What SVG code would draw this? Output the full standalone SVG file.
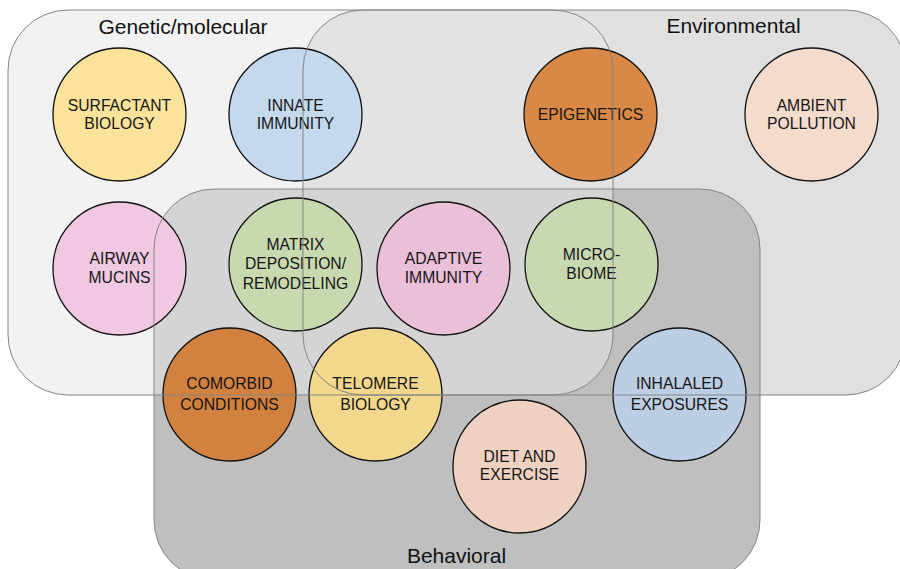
<svg xmlns="http://www.w3.org/2000/svg" width="900" height="569" viewBox="0 0 900 569">
<style>
.boxline{fill:none;stroke:#858585;stroke-width:1}
.node circle{stroke:#111;stroke-width:1.3}
.node text{font-family:"Liberation Sans",Arial,sans-serif;font-size:15.7px;fill:#151515;text-anchor:middle}
.title{font-family:"Liberation Sans",Arial,sans-serif;font-size:21px;fill:#111;text-anchor:middle}
</style>
<rect width="900" height="569" fill="#ffffff"/>
<g id="box-fills">
<rect x="303" y="10" width="603" height="385" rx="60" fill="#e0e0e0"/>
<rect x="154" y="189" width="606" height="391" rx="60" fill="#bfbfbf"/>
<rect x="8" y="10" width="605" height="385" rx="60" fill="#e6e6e6" fill-opacity="0.53"/>
</g>
<g id="circles">
<g id="surfactant" class="node"><circle cx="119.5" cy="114.5" r="66.5" fill="#fbe39b"/><text x="119.5" y="110.7">SURFACTANT</text><text x="119.5" y="129.3">BIOLOGY</text></g>
<g id="innate" class="node"><circle cx="295.5" cy="114.5" r="66.5" fill="#c5d9ee"/><text x="295.5" y="110.7">INNATE</text><text x="295.5" y="129.3">IMMUNITY</text></g>
<g id="epigenetics" class="node"><circle cx="590.5" cy="114.5" r="66.5" fill="#d98845"/><text x="590.5" y="119.5">EPIGENETICS</text></g>
<g id="ambient" class="node"><circle cx="811.5" cy="114.5" r="66.5" fill="#f5dbcc"/><text x="811.5" y="110.7">AMBIENT</text><text x="811.5" y="129.3">POLLUTION</text></g>
<g id="airway" class="node"><circle cx="119.5" cy="268.5" r="66.5" fill="#f0c8e2"/><text x="119.5" y="264.3">AIRWAY</text><text x="119.5" y="282.7">MUCINS</text></g>
<g id="matrix" class="node"><circle cx="295.5" cy="264.5" r="66.5" fill="#c8d9b0"/><text x="295.5" y="249.8">MATRIX</text><text x="295.5" y="269.3">DEPOSITION/</text><text x="295.5" y="288.8">REMODELING</text></g>
<g id="adaptive" class="node"><circle cx="443.5" cy="268.5" r="66.5" fill="#ebbfd7"/><text x="443.5" y="264.3">ADAPTIVE</text><text x="443.5" y="282.7">IMMUNITY</text></g>
<g id="microbiome" class="node"><circle cx="591.5" cy="264.5" r="66.5" fill="#c8d9b1"/><text x="591.5" y="260">MICRO-</text><text x="591.5" y="279">BIOME</text></g>
<g id="comorbid" class="node"><circle cx="229.5" cy="394.5" r="66.5" fill="#d2823e"/><text x="229.5" y="389">COMORBID</text><text x="229.5" y="409.5">CONDITIONS</text></g>
<g id="telomere" class="node"><circle cx="375.5" cy="394.5" r="66.5" fill="#f3d78d"/><text x="375.5" y="389">TELOMERE</text><text x="375.5" y="409.5">BIOLOGY</text></g>
<g id="inhaled" class="node"><circle cx="679.5" cy="394.5" r="66.5" fill="#bccee3"/><text x="679.5" y="389">INHALALED</text><text x="679.5" y="410">EXPOSURES</text></g>
<g id="diet" class="node"><circle cx="519.5" cy="466.5" r="66.5" fill="#eed1c0"/><text x="519.5" y="461.7">DIET AND</text><text x="519.5" y="480">EXERCISE</text></g>
</g>
<g id="genetic-molecular"><rect class="boxline" x="8" y="10" width="605" height="385" rx="60"/><text class="title" x="183" y="34">Genetic/molecular</text></g>
<g id="environmental"><rect class="boxline" x="303" y="10" width="603" height="385" rx="60"/><text class="title" x="733.5" y="33">Environmental</text></g>
<g id="behavioral"><rect class="boxline" x="154" y="189" width="606" height="391" rx="60"/><text class="title" x="456.5" y="563">Behavioral</text></g>
<g id="connectors"/>
</svg>
